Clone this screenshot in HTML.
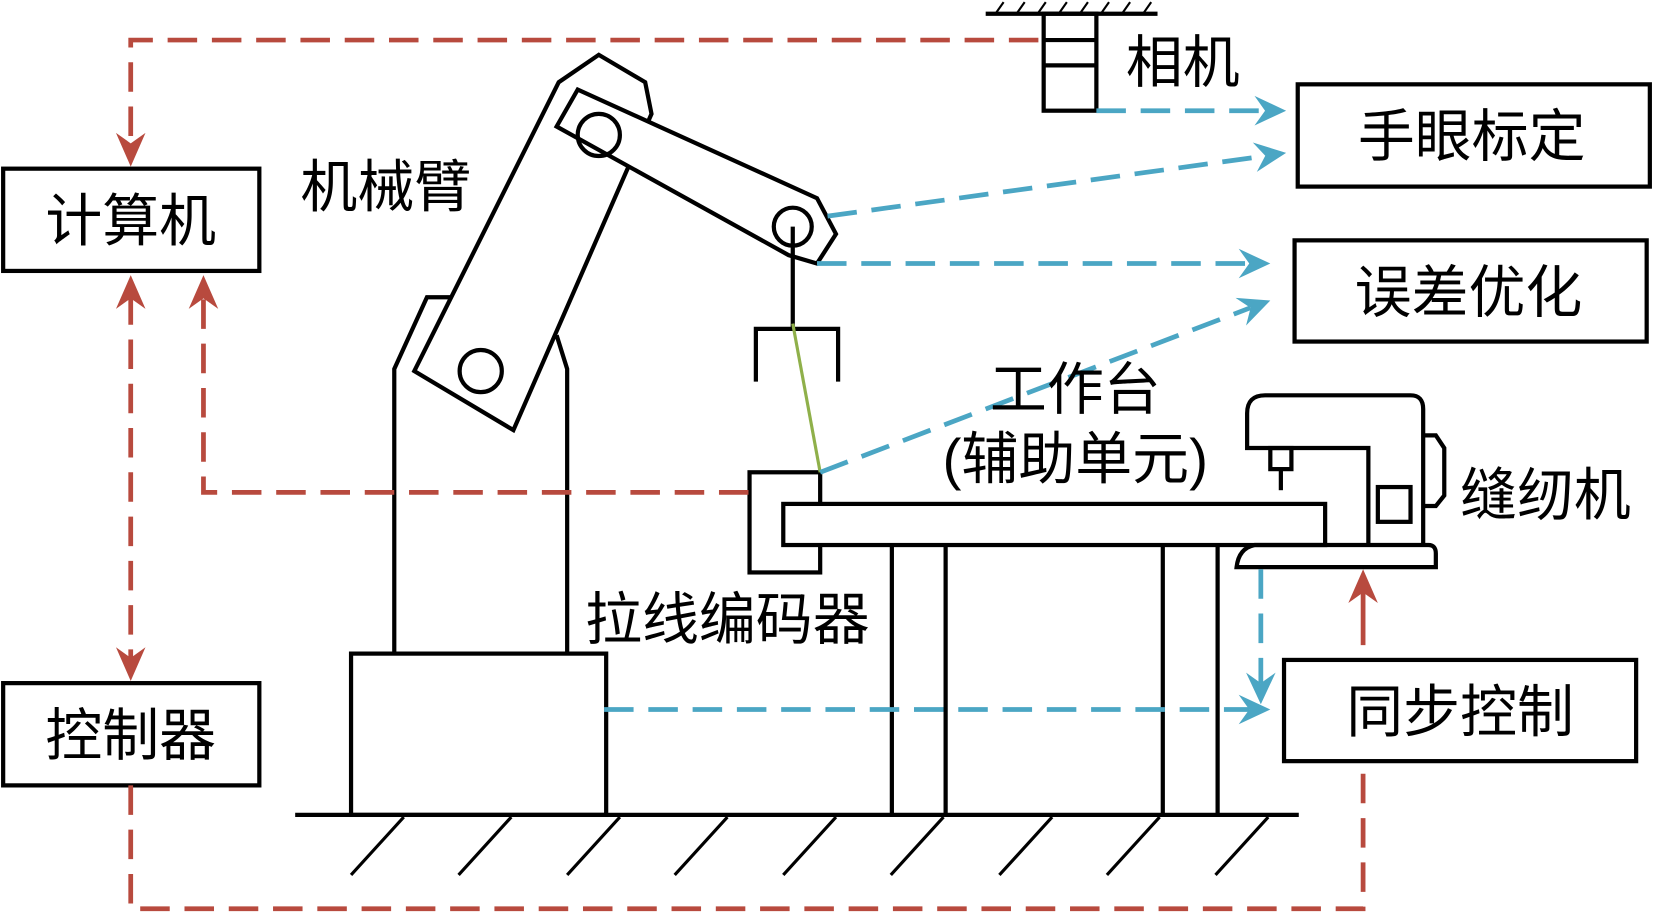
<!DOCTYPE html>
<html><head><meta charset="utf-8"><style>
html,body{margin:0;padding:0;background:#fff;}
svg{display:block}
text{font-family:"Liberation Sans","Noto Sans CJK SC",sans-serif;font-size:54px;fill:#000;}
</style></head><body>
<svg width="1653" height="914" viewBox="0 0 1568 867" preserveAspectRatio="none" xmlns="http://www.w3.org/2000/svg">
<g fill="none" stroke="#000" stroke-width="4">
<line x1="280" y1="773" x2="1232" y2="773"/>
<g stroke-width="3">
<line x1="383" y1="775" x2="333" y2="830"/><line x1="485" y1="775" x2="435" y2="830"/><line x1="588" y1="775" x2="538" y2="830"/><line x1="690" y1="775" x2="640" y2="830"/><line x1="793" y1="775" x2="743" y2="830"/><line x1="895" y1="775" x2="845" y2="830"/><line x1="998" y1="775" x2="948" y2="830"/><line x1="1100" y1="775" x2="1050" y2="830"/><line x1="1203" y1="775" x2="1153" y2="830"/>
</g>
<line x1="935" y1="13" x2="1098" y2="13"/>
<g stroke-width="2"><line x1="945" y1="12" x2="952" y2="2"/><line x1="965" y1="12" x2="972" y2="2"/><line x1="985" y1="12" x2="992" y2="2"/><line x1="1005" y1="12" x2="1012" y2="2"/><line x1="1025" y1="12" x2="1032" y2="2"/><line x1="1045" y1="12" x2="1052" y2="2"/><line x1="1065" y1="12" x2="1072" y2="2"/><line x1="1085" y1="12" x2="1092" y2="2"/></g>
<rect x="990" y="13" width="50" height="92"/>
<line x1="990" y1="38" x2="1040" y2="38"/><line x1="990" y1="62" x2="1040" y2="62"/>
<rect x="333" y="620" width="242" height="153"/>
<path d="M374,620 L374,350 L405,282 L428,282"/>
<path d="M538,620 L538,350 L528,318"/>
<path d="M393,352 L530,78 L568,52 L612,78 L618,108 L487,408 Z" fill="#fff"/>
<circle cx="456" cy="352" r="20"/>
<path d="M528,120 L548,85 L775,188 L793,222 L775,250 L748,242 Z" fill="#fff"/>
<circle cx="568" cy="128" r="20"/>
<circle cx="752" cy="215" r="18"/>
<line x1="752" y1="215" x2="752" y2="312"/>
<path d="M717,362 L717,312 L795,312 L795,362"/>
<rect x="711" y="448" width="67" height="95" fill="#fff"/>
<rect x="743" y="478" width="514" height="39" fill="#fff"/>
<line x1="846" y1="517" x2="846" y2="773"/><line x1="897" y1="517" x2="897" y2="773"/>
<line x1="1103" y1="517" x2="1103" y2="773"/><line x1="1155" y1="517" x2="1155" y2="773"/>
<path d="M1298,517 L1298,425 L1183,425 L1183,392 Q1183,375 1200,375 L1338,375 Q1350,375 1350,388 L1350,517"/>
<rect x="1205" y="425" width="20" height="20"/><line x1="1215" y1="445" x2="1215" y2="465"/>
<path d="M1350,413 L1362,413 L1370,425 L1370,470 L1362,480 L1350,480"/>
<rect x="1307" y="462" width="31" height="33"/>
<path d="M1173,538 L1362,538 L1362,525 Q1362,517 1355,517 L1190,517 Q1175,520 1173,538 Z"/>
<rect x="3" y="160" width="243" height="97"/>
<rect x="3" y="648" width="243" height="97"/>
<rect x="1231" y="80" width="334" height="97"/>
<rect x="1228" y="228" width="334" height="96"/>
<rect x="1218" y="626" width="334" height="96"/>
</g>
<line x1="752" y1="307" x2="778" y2="448" stroke="#8fb04a" stroke-width="3"/>
<g fill="none" stroke="#b84a3e" stroke-width="4.5" stroke-dasharray="28,14">
<path d="M985,38 L124,38 L124,140"/>
<path d="M124,280 L124,628"/>
<path d="M710,467 L193,467 L193,280"/>
<path d="M124,745 L124,862 L1293,862 L1293,722"/>
<path d="M1293,612 L1293,560" stroke-dasharray="none"/>
</g>
<g fill="#b84a3e">
<polygon points="124,158 110,126 124,136 138,126"/>
<polygon points="124,261 110,293 124,283 138,293"/>
<polygon points="193,261 179,293 193,283 207,293"/>
<polygon points="124,646 110,614 124,624 138,614"/>
<polygon points="1293,540 1279,572 1293,562 1307,572"/>
</g>
<g fill="none" stroke="#4ba6c4" stroke-width="4.5" stroke-dasharray="28,14">
<path d="M1040,105 L1200,105"/>
<path d="M785,205 L1200,148"/>
<path d="M775,250 L1185,250"/>
<path d="M778,448 L1186,292"/>
<path d="M573,673 L1185,673"/>
<path d="M1196,540 L1196,648"/>
</g>
<g fill="#4ba6c4">
<polygon points="1220,105 1190,91 1200,105 1190,119"/>
<polygon points="1220,145 1192.2,163 1200.2,147.7 1188.4,135.2"/>
<polygon points="1205,250 1175,236 1185,250 1175,264"/>
<polygon points="1205,285 1182,308.8 1186.3,292.1 1172,282.6"/>
<polygon points="1205,673 1175,659 1185,673 1175,687"/>
<polygon points="1196,668 1182,638 1196,648 1210,638"/>
</g>
<text x="124" y="228" text-anchor="middle">计算机</text>
<text x="124" y="716" text-anchor="middle">控制器</text>
<text x="1396" y="148" text-anchor="middle">手眼标定</text>
<text x="1393" y="296" text-anchor="middle">误差优化</text>
<text x="1385" y="694" text-anchor="middle">同步控制</text>
<text x="1068" y="78">相机</text>
<text x="285" y="196">机械臂</text>
<text x="1020" y="388" text-anchor="middle">工作台</text>
<text x="1020" y="454" text-anchor="middle">(辅助单元)</text>
<text x="1385" y="488">缝纫机</text>
<text x="555" y="606">拉线编码器</text>
</svg>
</body></html>
